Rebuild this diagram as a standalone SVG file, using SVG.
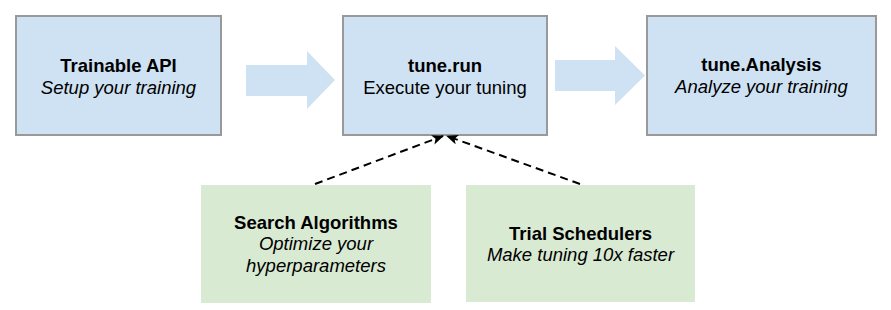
<svg xmlns="http://www.w3.org/2000/svg" width="891" height="310" viewBox="0 0 891 310">
<defs>
<style>
.box{fill:#cfe2f3;stroke:#999999;stroke-width:2}
.gbox{fill:#d9ead3}
.big{fill:#cfe2f3}
text{font-family:"Liberation Sans",Arial,sans-serif;font-size:18.5px;fill:#000;text-anchor:middle}
.b{font-weight:bold}
.i{font-style:italic}
.dash{fill:none;stroke:#000;stroke-width:2;stroke-dasharray:8 5}
</style>
<marker id="ah" viewBox="0 0 12 10" refX="11" refY="5" markerWidth="12" markerHeight="10" markerUnits="userSpaceOnUse" orient="auto">
<path d="M0,0 L12,5 L0,10 L3,5 Z" fill="#000"/>
</marker>
</defs>
<rect width="891" height="310" fill="#fff"/>
<g id="trainable">
<rect class="box" x="16" y="16" width="205" height="119"/>
<text class="b" x="118.5" y="71.5">Trainable API</text>
<text class="i" x="118.5" y="93.5">Setup your training</text>
</g>
<g id="tunerun">
<rect class="box" x="343" y="16" width="204" height="119"/>
<text class="b" x="445" y="72">tune.run</text>
<text x="445" y="94">Execute your tuning</text>
</g>
<g id="analysis">
<rect class="box" x="647" y="16" width="229" height="119"/>
<text class="b" x="761.5" y="71">tune.Analysis</text>
<text class="i" x="761.5" y="93">Analyze your training</text>
</g>
<g id="search">
<rect class="gbox" x="201" y="185" width="230" height="118"/>
<text class="b" x="316" y="228.5">Search Algorithms</text>
<text class="i" x="316" y="250">Optimize your</text>
<text class="i" x="316" y="271.5">hyperparameters</text>
</g>
<g id="schedulers">
<rect class="gbox" x="466" y="185" width="229" height="117"/>
<text class="b" x="580.5" y="240">Trial Schedulers</text>
<text class="i" x="580.5" y="261">Make tuning 10x faster</text>
</g>
<g id="connectors">
<polygon class="big" points="246,65 307,65 307,51 335,80 307,109 307,96 246,96"/>
<polygon class="big" points="555,60 615,60 615,46 645,75.5 615,105 615,91 555,91"/>
<line class="dash" x1="315" y1="184" x2="443" y2="136" marker-end="url(#ah)"/>
<line class="dash" x1="580" y1="184" x2="447" y2="136" marker-end="url(#ah)"/>
</g>
</svg>
